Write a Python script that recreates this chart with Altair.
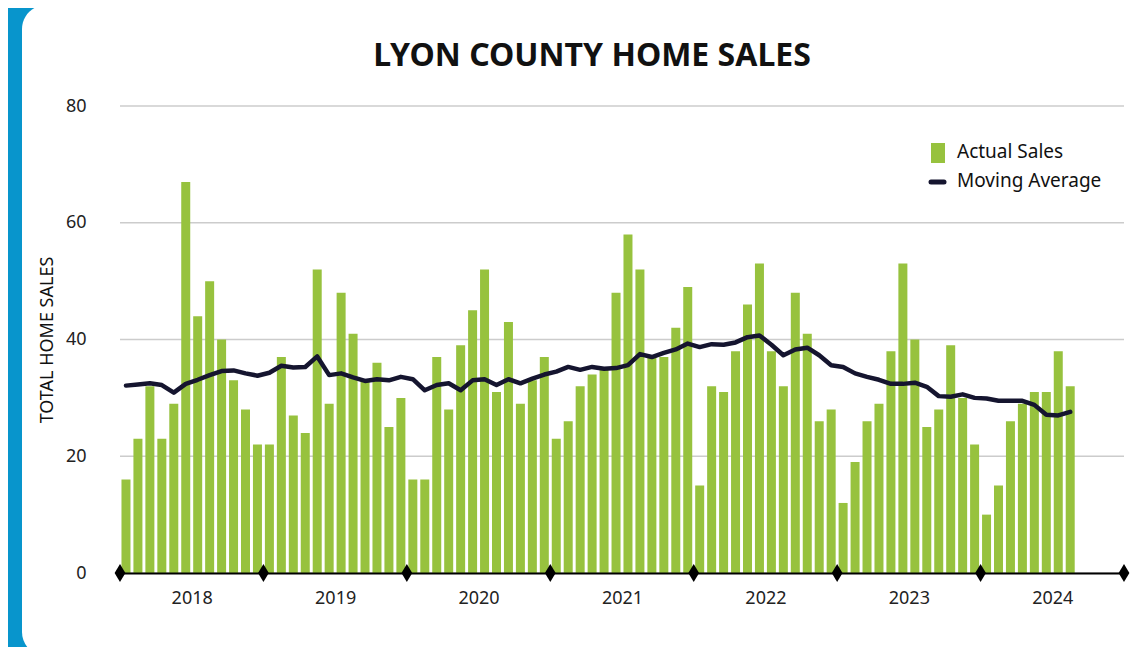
import altair as alt
import pandas as pd

# ---- data ----
years = [2018, 2019, 2020, 2021, 2022, 2023, 2024]
actual_sales = [
    16, 23, 32, 23, 29, 67, 44, 50, 40, 33, 28, 22,   # 2018
    22, 37, 27, 24, 52, 29, 48, 41, 33, 36, 25, 30,   # 2019
    16, 16, 37, 28, 39, 45, 52, 31, 43, 29, 33, 37,   # 2020
    23, 26, 32, 34, 35, 48, 58, 52, 37, 37, 42, 49,   # 2021
    15, 32, 31, 38, 46, 53, 38, 32, 48, 41, 26, 28,   # 2022
    12, 19, 26, 29, 38, 53, 40, 25, 28, 39, 30, 22,   # 2023
    10, 15, 26, 29, 31, 31, 38, 32,                   # 2024
]
moving_average = [
    32.1, 32.3, 32.5, 32.2, 30.9, 32.4, 33.1, 33.9, 34.6, 34.7, 34.2, 33.8,
    34.3, 35.5, 35.2, 35.3, 37.1, 33.9, 34.2, 33.5, 32.9, 33.2, 33.0, 33.6,
    33.2, 31.3, 32.2, 32.5, 31.3, 33.0, 33.2, 32.2, 33.2, 32.5, 33.3, 34.0,
    34.5, 35.3, 34.8, 35.3, 35.0, 35.1, 35.6, 37.5, 37.0, 37.7, 38.3, 39.3,
    38.7, 39.2, 39.1, 39.5, 40.4, 40.7, 39.1, 37.3, 38.3, 38.6, 37.3, 35.6,
    35.3, 34.2, 33.6, 33.1, 32.4, 32.4, 32.6, 31.9, 30.3, 30.2, 30.6, 30.0,
    29.9, 29.5, 29.5, 29.5, 28.8, 27.1, 27.0, 27.6,
]
y_ticks = [0, 20, 40, 60, 80]
title_text = "LYON COUNTY HOME SALES"
legend_labels = ["Actual Sales", "Moving Average"]

GREEN = "#97c23e"
NAVY = "#15152f"
FONT = "Noto Sans"

n_months = len(years) * 12
df = pd.DataFrame({
    "month": [i + 0.5 for i in range(len(actual_sales))],
    "sales": actual_sales,
    "ma": moving_average,
})
year_bounds = pd.DataFrame({"m": [12 * i for i in range(len(years) + 1)], "v": [0] * (len(years) + 1)})
grid_df = pd.DataFrame({"g": y_ticks})

xscale = alt.Scale(domain=[0, n_months], nice=False, zero=False, padding=0)
yscale = alt.Scale(domain=[0, 80], nice=False)

x_axis = alt.Axis(
    values=[12 * i + 6 for i in range(len(years))],
    labelExpr="2018 + floor(datum.value / 12)",
    ticks=False, tickSize=0, grid=False, title=None,
    domainColor="black", domainWidth=2,
    labelFont=FONT, labelFontSize=18, labelColor="#222",
    labelPadding=16, zindex=1,
)
y_axis = alt.Axis(
    values=y_ticks, grid=False, domain=False, ticks=False,
    labelFont=FONT, labelFontSize=18, labelColor="#222", labelPadding=34,
    title="TOTAL HOME SALES", titleFont=FONT, titleFontSize=18,
    titleFontWeight="normal", titleColor="#111", titlePadding=9, zindex=1,
)

one = pd.DataFrame({"a": [0]})

card = alt.Chart(one).mark_rect(color="white", cornerRadius=24).encode(
    x=alt.value(-98), x2=alt.value(1100), y=alt.value(-101), y2=alt.value(550)
)

grid = alt.Chart(grid_df).mark_rule(color="#cccccc", strokeWidth=1.5).encode(
    y=alt.Y("g:Q", scale=yscale, axis=y_axis)
)

bars = alt.Chart(df).mark_bar(color=GREEN, size=9).encode(
    x=alt.X("month:Q", scale=xscale, axis=x_axis),
    y=alt.Y("sales:Q", scale=yscale, axis=y_axis),
)

line = alt.Chart(df).mark_line(
    color=NAVY, strokeWidth=4.5, strokeCap="round", strokeJoin="round"
).encode(
    x=alt.X("month:Q", scale=xscale),
    y=alt.Y("ma:Q", scale=yscale),
)

diamonds = alt.Chart(year_bounds).mark_point(
    shape="M0,-1L0.6,0L0,1L-0.6,0Z", filled=True, color="black", opacity=1, size=324
).encode(
    x=alt.X("m:Q", scale=xscale),
    y=alt.Y("v:Q", scale=yscale),
)

title = alt.Chart(pd.DataFrame({"t": [title_text]})).mark_text(
    align="center", baseline="middle", font=FONT,
    fontSize=32, fontWeight="bold", color="#111"
).encode(x=alt.value(472), y=alt.value(-50), text="t:N")

leg_box = alt.Chart(one).mark_rect(color=GREEN).encode(
    x=alt.value(811), x2=alt.value(825), y=alt.value(37), y2=alt.value(57)
)
leg_line = alt.Chart(one).mark_rule(color=NAVY, strokeWidth=5, strokeCap="round").encode(
    x=alt.value(811), x2=alt.value(824), y=alt.value(76)
)
leg_text1 = alt.Chart(pd.DataFrame({"label": [legend_labels[0]]})).mark_text(
    align="left", baseline="middle", font=FONT, fontSize=19, color="#111"
).encode(x=alt.value(837), y=alt.value(46), text="label:N")
leg_text2 = alt.Chart(pd.DataFrame({"label": [legend_labels[1]]})).mark_text(
    align="left", baseline="middle", font=FONT, fontSize=19, color="#111"
).encode(x=alt.value(837), y=alt.value(75), text="label:N")

chart = alt.layer(
    card, grid, bars, line, diamonds, title, leg_box, leg_line, leg_text1, leg_text2
).properties(
    width=1004,
    height=467,
    padding={"left": 112, "top": 98, "right": 11, "bottom": 74},
    autosize=alt.AutoSizeParams(type="none"),
    background="#0895cc",
).configure_view(stroke=None)

chart.save("out.html", embed_options={"renderer": "svg", "actions": False})
